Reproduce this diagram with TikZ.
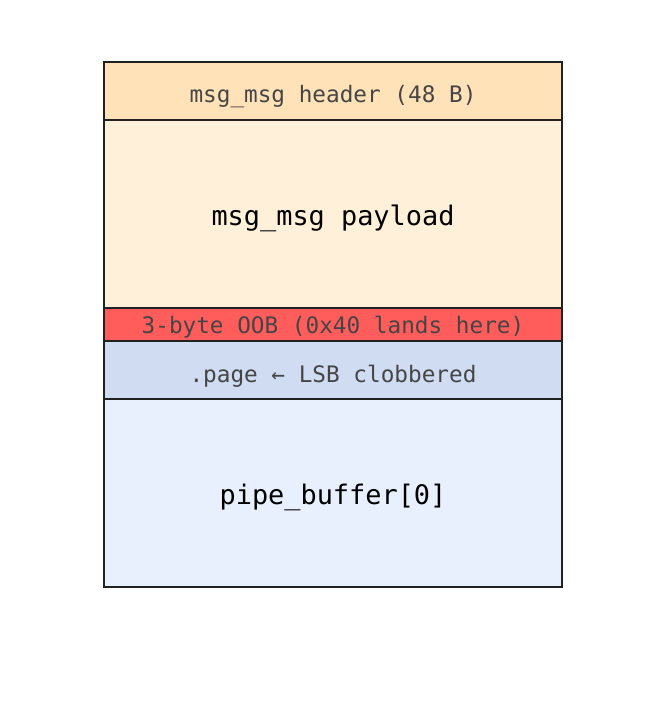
\documentclass[tikz,border=0pt]{standalone}
\usepackage{fontspec}
\setmonofont{DejaVu Sans Mono}
\begin{document}
\begin{tikzpicture}[x=1pt,y=-1pt,
  cell/.style={draw=black!87,line width=1.8pt},
  small/.style={font=\ttfamily\fontsize{22.7}{26}\selectfont,text=black!73},
  big/.style={font=\ttfamily\fontsize{26.9}{30}\selectfont,text=black}]
\useasboundingbox (0,0) rectangle (667,708);
\definecolor{hdr}{HTML}{FFE2B8}
\definecolor{pay}{HTML}{FFF0DA}
\definecolor{oob}{HTML}{FF5C5C}
\definecolor{pg}{HTML}{CFDCF2}
\definecolor{pb}{HTML}{E8F0FE}
\path[cell,fill=hdr] (104,62) rectangle (562,120);
\path[cell,fill=pay] (104,120) rectangle (562,308);
\path[cell,fill=oob] (104,308) rectangle (562,341);
\path[cell,fill=pg] (104,341) rectangle (562,399);
\path[cell,fill=pb] (104,399) rectangle (562,587);
\node[small] (h) at (333,97) {msg\_msg header (48 B)};
\node[big] (p) at (333,218) {msg\_msg payload};
\node[small] (o) at (333,327) {3-byte OOB (0x40 lands here)};
\node[small] (g) at (333,376) {.page ← LSB clobbered};
\node[big] (b) at (333,497) {pipe\_buffer[0]};
\end{tikzpicture}
\end{document}
